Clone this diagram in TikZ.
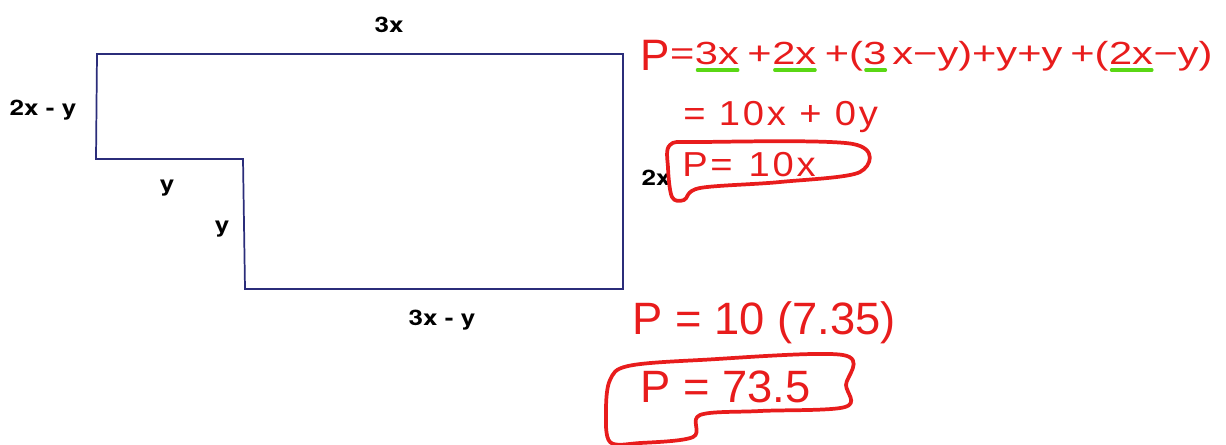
\documentclass[tikz,border=0pt]{standalone}
\usepackage{fontspec}
\setmainfont{TeX Gyre Heros}
\newfontfamily\lblf[FakeStretch=1.22]{TeX Gyre Heros}
\newfontfamily\hw{Liberation Sans}
\newfontfamily\hwr[FakeStretch=1.3]{Liberation Sans}
\newfontfamily\hww[FakeStretch=1.1,LetterSpace=8]{Liberation Sans}
\definecolor{navy}{RGB}{43,45,122}
\definecolor{ink}{RGB}{232,28,28}
\definecolor{hl}{RGB}{90,215,20}
\begin{document}
\begin{tikzpicture}[x=0.75pt,y=-0.75pt,
  lbl/.style={font=\lblf\fontsize{16}{19}\selectfont\bfseries, inner sep=0},
  hwa/.style={font=\hwr\fontsize{24}{30}\selectfont, text=ink, inner sep=0, anchor=base west},
  hwp/.style={font=\hw\fontsize{33}{40}\selectfont, text=ink, inner sep=0, anchor=base west},
  hwb/.style={font=\hww\fontsize{26}{32}\selectfont, text=ink, inner sep=0, anchor=base west},
  hwd/.style={font=\hw\fontsize{34}{40}\selectfont, text=ink, inner sep=0, anchor=base west},
  ul/.style={draw=hl, line width=2.4pt, line cap=round},
  boxline/.style={draw=ink, line width=2.8pt, line cap=round, line join=round},
  outline/.style={draw=navy, line width=1.3pt}]
\useasboundingbox (0,0) rectangle (1226,444);
% polygon
\draw[outline] (97,54) -- (623,54) -- (623,289) -- (245,289) -- (243,159) -- (96,159) -- cycle;
% labels
\node[lbl] (l3x) at (389,25) {3x};
\node[lbl] (l2xy) at (43,110) {2x - y};
\node[lbl] (ly1) at (167,188) {y};
\node[lbl] (ly2) at (222,229) {y};
\node[lbl] (l3xy) at (442,320) {3x - y};
\node[lbl] (l2x) at (656,178) {2x};
% row 1
\node[hwp] (r1a) at (640,70) {P};
\node[hwa] (r1a2) at ([yshift=4pt]r1a.base east) {=};
\node[hwa] (r1b) at (r1a2.base east) {3x};
\node[hwa] (r1c) at (r1b.base east) {\hspace{6pt}+};
\node[hwa] (r1d) at (r1c.base east) {2x};
\node[hwa] (r1e) at (r1d.base east) {\hspace{6pt}+(};
\node[hwa] (r1f) at (r1e.base east) {3};
\node[hwa] (r1g) at (r1f.base east) {\hspace{4pt}x−y)+y+y\hspace{6pt}+(};
\node[hwa] (r1h) at (r1g.base east) {2x};
\node[hwa] (r1i) at (r1h.base east) {−y)};
\foreach \n in {r1b,r1d,r1f,r1h}
  \draw[ul] ([yshift=-4pt,xshift=2pt]\n.base west) -- ([yshift=-4pt,xshift=-1pt]\n.base east);
% row 2
\node[hwb] (r2) at (683,125) {= 10x + 0y};
% row 3
\node[hwb] (r3) at (682,176) {P=\hspace{12pt}10x};
\draw[boxline] plot[smooth cycle, tension=0.55] coordinates {(670,145) (700,142) (853,144) (860,172) (780,182) (700,188) (684,200) (672,197) (668,168)};
% row 4
\node[hwd] (r4) at (632,334) {P = 10 (7.35)};
% row 5
\node[hwd] (r5) at (640,402) {P = 73.5};
\draw[boxline] plot[smooth cycle, tension=0.55] coordinates {(628,366) (700,360) (843,355) (846,385) (845,407) (760,411) (700,415) (693,437) (640,443) (610,442) (606,410) (610,380)};
\end{tikzpicture}
\end{document}
